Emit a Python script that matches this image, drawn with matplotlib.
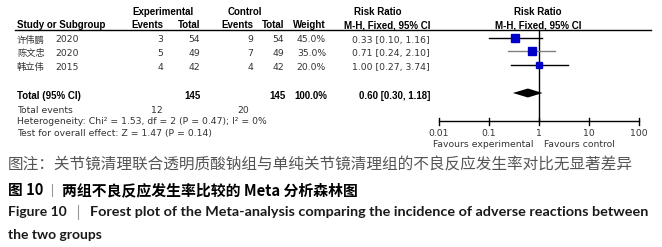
import numpy as np
import matplotlib
matplotlib.use("Agg")
import matplotlib.pyplot as plt

# Datos del forest plot
studies = ["许伟鹏", "陈文忠", "韩立伟"]
years = ["2020", "2020", "2015"]
exp_events = [3, 5, 4]
exp_total = [54, 49, 42]
ctl_events = [9, 7, 4]
ctl_total = [54, 49, 42]
weights = [45.0, 35.0, 20.0]
rr = [0.33, 0.71, 1.00]
rr_lo = [0.10, 0.24, 0.27]
rr_hi = [1.16, 2.10, 3.74]
total_exp, total_ctl = 145, 145
total_ev_exp, total_ev_ctl = 12, 20
pooled = (0.60, 0.30, 1.18)
axis_ticks = [0.01, 0.1, 1, 10, 100]
axis_labels = ["0.01", "0.1", "1", "10", "100"]

W, H = 662, 247
fig = plt.figure(figsize=(W / 100, H / 100), dpi=100)

# Ejes de texto en coordenadas de pixel
tx = fig.add_axes([0, 0, 1, 1])
tx.set_xlim(0, W)
tx.set_ylim(H, 0)
tx.axis("off")

# Ejes del forest plot (x logaritmico, 50 px por decada, 1 en x=539)
x0, x1, xc = 430, 660, 539
fx = fig.add_axes([x0 / W, 0, (x1 - x0) / W, 1])
fx.set_xscale("log")
fx.set_xlim(10 ** ((x0 - xc) / 50), 10 ** ((x1 - xc) / 50))
fx.set_ylim(H, 0)
fx.axis("off")

reg = ["DejaVu Sans", "Noto Sans CJK SC"]
bld = ["Liberation Sans", "Noto Sans CJK SC"]
grey = "#333333"

def t(x, y, s, ha="left", bold=False, ax=None):
    (ax or tx).text(x, y, s, ha=ha, va="center",
                    fontsize=7 if bold else 6.7,
                    family=bld if bold else reg,
                    fontweight="bold" if bold else "normal",
                    color="black" if bold else grey)

# Cabecera
t(163, 12, "Experimental", ha="center", bold=True)
t(245, 12, "Control", ha="center", bold=True)
t(378, 12, "Risk Ratio", ha="center", bold=True)
t(538, 12, "Risk Ratio", ha="center", bold=True)
t(17, 25, "Study or Subgroup", bold=True)
t(163, 25, "Events", ha="right", bold=True)
t(200, 25, "Total", ha="right", bold=True)
t(253, 25, "Events", ha="right", bold=True)
t(284, 25, "Total", ha="right", bold=True)
t(326, 25, "Weight", ha="right", bold=True)
t(430, 25, "M-H, Fixed, 95% CI", ha="right", bold=True)
t(538, 25, "M-H, Fixed, 95% CI", ha="center", bold=True)
tx.plot([15, 651], [30, 30], color="black", lw=1)

row_y = [38, 51, 65]
for i in range(len(studies)):
    y = row_y[i] + 2
    t(17, y, studies[i])
    t(55, y, years[i])
    t(163, y, str(exp_events[i]), ha="right")
    t(200, y, str(exp_total[i]), ha="right")
    t(253, y, str(ctl_events[i]), ha="right")
    t(284, y, str(ctl_total[i]), ha="right")
    t(326, y, f"{weights[i]:.1f}%", ha="right")
    t(430, y, f"{rr[i]:.2f} [{rr_lo[i]:.2f}, {rr_hi[i]:.2f}]", ha="right")

# Fila total
t(17, 96, "Total (95% CI)", bold=True)
t(201, 96, str(total_exp), ha="right", bold=True)
t(286, 96, str(total_ctl), ha="right", bold=True)
t(327, 96, "100.0%", ha="right", bold=True)
t(430, 96, f"{pooled[0]:.2f} [{pooled[1]:.2f}, {pooled[2]:.2f}]", ha="right", bold=True)
t(17, 110, "Total events")
t(163, 110, str(total_ev_exp), ha="right")
t(249, 110, str(total_ev_ctl), ha="right")
t(17, 121, "Heterogeneity: Chi² = 1.53, df = 2 (P = 0.47); I² = 0%")
t(17, 133, "Test for overall effect: Z = 1.47 (P = 0.14)")

# Forest plot
fx.plot([1, 1], [30, 121], color="black", lw=1)
ci_colors = ["black", "#808080", "black"]
for i in range(len(studies)):
    fx.plot([rr_lo[i], rr_hi[i]], [row_y[i], row_y[i]], color=ci_colors[i], lw=1)
    fx.plot(rr[i], row_y[i], marker="s", color="#0000C8",
            markersize=0.86 * np.sqrt(weights[i]), linestyle="none")
est, lo, hi = pooled
fx.fill([lo, est, hi, est], [93, 88.5, 93, 97.5], color="black", lw=0)

fx.plot([axis_ticks[0], axis_ticks[-1]], [121, 121], color="black", lw=1)
for v, lab in zip(axis_ticks, axis_labels):
    fx.plot([v, v], [117.5, 124.5], color="black", lw=1)
    t(v, 133, lab, ha="center", ax=fx)
t(0.794, 144, "Favours experimental", ha="right", ax=fx)
t(1.26, 144, "Favours control", ax=fx)

# Pie de figura
cjk = ["Noto Sans CJK SC", "DejaVu Sans"]
tx.text(8, 165, "图注：关节镜清理联合透明质酸钠组与单纯关节镜清理组的不良反应发生率对比无显著差异",
        ha="left", va="center", fontsize=11.25, family=cjk, color="#555555")
tx.text(8, 190, "图 10", ha="left", va="center", fontsize=10.6, family=cjk,
        fontweight="bold", color="black")
tx.plot([52, 52], [184, 196], color="#999999", lw=0.8)
tx.text(62, 190, "两组不良反应发生率比较的 Meta 分析森林图", ha="left", va="center",
        fontsize=10.7, family=cjk, fontweight="bold", color="black")
en = ["Lato", "DejaVu Sans"]
tx.text(8, 212, "Figure 10", ha="left", va="center", fontsize=10, family=en,
        fontweight="bold", color="#1a1a1a")
tx.plot([78, 78], [205, 219], color="#999999", lw=0.8)
tx.text(90, 212, "Forest plot of the Meta-analysis comparing the incidence of adverse reactions between",
        ha="left", va="center", fontsize=10.33, family=en, fontweight="bold", color="#1a1a1a")
tx.text(8, 235, "the two groups", ha="left", va="center", fontsize=10, family=en,
        fontweight="bold", color="#1a1a1a")

fig.savefig("out.png", dpi=100)
